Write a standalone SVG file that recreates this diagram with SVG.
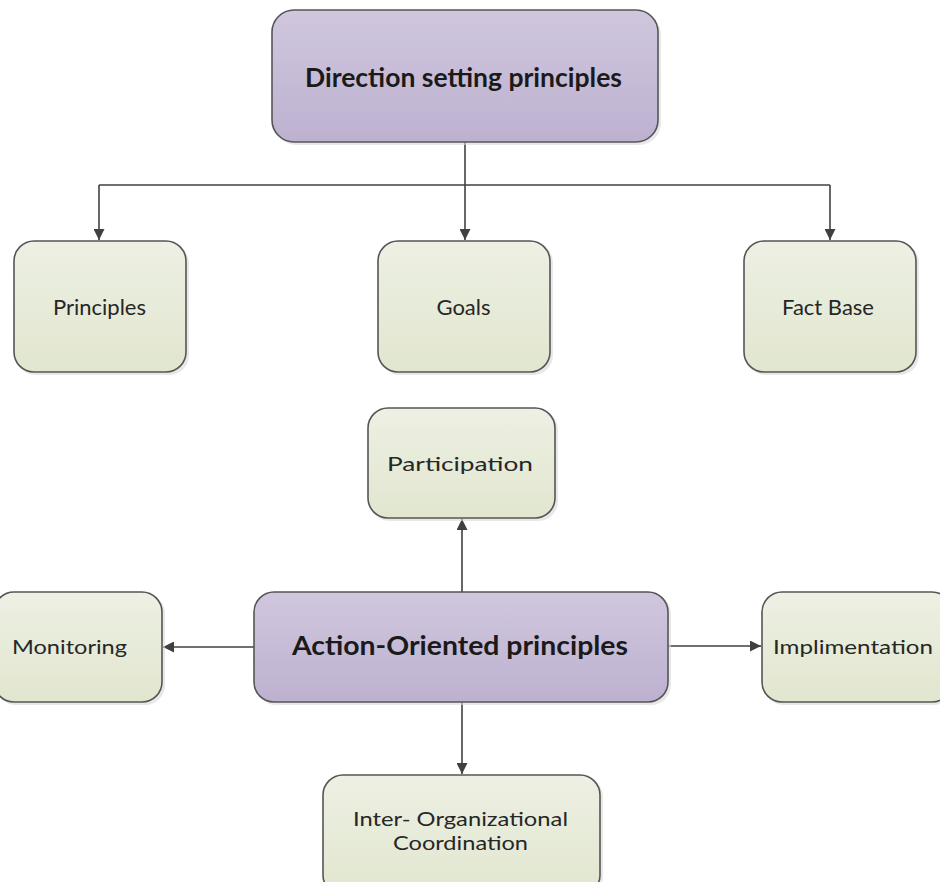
<svg xmlns="http://www.w3.org/2000/svg" width="940" height="882" viewBox="0 0 940 882">
<style>
.main{stroke:#555555;stroke-width:1.6;fill:url(#gp)}
.sub{stroke:#555555;stroke-width:1.6;fill:url(#gg)}
.sh{fill:#d9d9d9;opacity:0.6}
.t{font-family:Lato,"Open Sans",sans-serif;fill:#262626;text-anchor:middle;dominant-baseline:central}
.tb{font-family:Lato,"Open Sans",sans-serif;font-weight:bold;fill:#1a1a1a;text-anchor:middle;dominant-baseline:central;font-size:26px}
.ts{font-size:22px}
.tw{font-size:20px}
.c{stroke:#404040;stroke-width:1.6;fill:none}
</style>
<defs>
<linearGradient id="gp" x1="0" y1="0" x2="0" y2="1"><stop offset="0" stop-color="#d0c7de"/><stop offset="1" stop-color="#bdb1d0"/></linearGradient>
<linearGradient id="gg" x1="0" y1="0" x2="0" y2="1"><stop offset="0" stop-color="#edf0e3"/><stop offset="1" stop-color="#e1e6cf"/></linearGradient>
<marker id="a" viewBox="0 0 10 10" refX="10" refY="5" markerWidth="11" markerHeight="11" markerUnits="userSpaceOnUse" orient="auto"><path d="M0,0 L10,5 L0,10 z" fill="#404040"/></marker>
</defs>
<rect width="940" height="882" fill="#ffffff"/>
<g id="connectors">
<path class="c" d="M465,142 V185"/>
<path class="c" d="M99,185 H830"/>
<path class="c" d="M99,185 V240" marker-end="url(#a)"/>
<path class="c" d="M465,185 V240" marker-end="url(#a)"/>
<path class="c" d="M830,185 V240" marker-end="url(#a)"/>
<path class="c" d="M462,592 V519" marker-end="url(#a)"/>
<path class="c" d="M254,647 H163" marker-end="url(#a)"/>
<path class="c" d="M668,646 H761" marker-end="url(#a)"/>
<path class="c" d="M462,702 V774" marker-end="url(#a)"/>
</g>
<g id="direction">
<rect class="sh" x="274" y="13" width="387" height="132" rx="22"/>
<rect class="main" x="272" y="10" width="386" height="132" rx="22"/>
<text class="tb" x="463.5" y="77" textLength="317" lengthAdjust="spacingAndGlyphs">Direction setting principles</text>
</g>
<g id="principles">
<rect class="sh" x="16" y="243" width="173" height="132" rx="20"/>
<rect class="sub" x="14" y="241" width="172" height="131" rx="20"/>
<text class="t ts" x="99.5" y="306">Principles</text>
</g>
<g id="goals">
<rect class="sh" x="380" y="243" width="173" height="132" rx="20"/>
<rect class="sub" x="378" y="241" width="172" height="131" rx="20"/>
<text class="t ts" x="463.5" y="306">Goals</text>
</g>
<g id="factbase">
<rect class="sh" x="746" y="243" width="173" height="132" rx="20"/>
<rect class="sub" x="744" y="241" width="172" height="131" rx="20"/>
<text class="t ts" x="828" y="306">Fact Base</text>
</g>
<g id="participation">
<rect class="sh" x="370" y="410" width="188" height="111" rx="20"/>
<rect class="sub" x="368" y="408" width="187" height="110" rx="20"/>
<text class="t tw" x="460" y="463" textLength="146" lengthAdjust="spacingAndGlyphs">Participation</text>
</g>
<g id="action">
<rect class="sh" x="256" y="594" width="415" height="111" rx="20"/>
<rect class="main" x="254" y="592" width="414" height="110" rx="20"/>
<text class="tb" x="460" y="645" textLength="336" lengthAdjust="spacingAndGlyphs">Action-Oriented principles</text>
</g>
<g id="monitoring">
<rect class="sh" x="-4" y="594" width="169" height="111" rx="20"/>
<rect class="sub" x="-6" y="592" width="168" height="110" rx="20"/>
<text class="t tw" x="69.5" y="646" textLength="115" lengthAdjust="spacingAndGlyphs">Monitoring</text>
</g>
<g id="implementation">
<rect class="sh" x="764" y="594" width="190" height="111" rx="20"/>
<rect class="sub" x="762" y="592" width="190" height="110" rx="20"/>
<text class="t tw" x="853" y="646" textLength="160" lengthAdjust="spacingAndGlyphs">Implimentation</text>
</g>
<g id="coordination">
<rect class="sh" x="325" y="777" width="278" height="120" rx="20"/>
<rect class="sub" x="323" y="775" width="277" height="120" rx="20"/>
<text class="t tw" x="460.5" y="818" textLength="215" lengthAdjust="spacingAndGlyphs">Inter- Organizational</text>
<text class="t tw" x="460.5" y="842" textLength="135" lengthAdjust="spacingAndGlyphs">Coordination</text>
</g>
</svg>
